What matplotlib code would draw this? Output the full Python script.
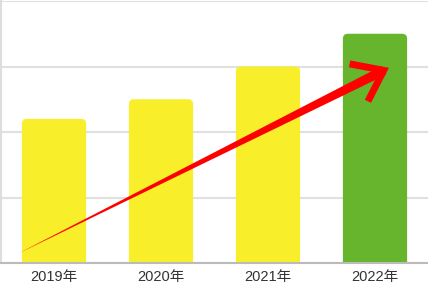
import matplotlib
matplotlib.use("Agg")
import matplotlib.pyplot as plt
from matplotlib.patches import FancyBboxPatch

plt.rcParams['font.family'] = ['Liberation Sans', 'Noto Sans CJK JP', 'DejaVu Sans']

years = ["2019年", "2020年", "2021年", "2022年"]
values = [2.2, 2.5, 3.0, 3.5]
colors = ["#F8EE2A", "#F8EE2A", "#F8EE2A", "#67B52D"]

# arrow (data coords: category index, value)
arrow_tail = (-0.34, 0.14)
arrow_tip = (3.13, 2.98)

fig = plt.figure(figsize=(4.28, 2.85), dpi=100)
ax = fig.add_axes([0.5 / 428, 22 / 285, 428 / 428, 262 / 285])

x = list(range(len(years)))
bars = ax.bar(x, values, width=0.6, color=colors, zorder=2)

ax.set_xlim(-0.5, len(years) - 0.5)
ax.set_ylim(0, 4)

# swap the plain bars for ones with rounded corners
xr = 5 / 107
yr = 5 / 65.5
for b in bars:
    bx, bw, bh = b.get_x(), b.get_width(), b.get_height()
    rp = FancyBboxPatch((bx, -0.2), bw, bh + 0.2,
                        boxstyle="round,pad=0,rounding_size=%f" % xr,
                        mutation_aspect=yr / xr,
                        facecolor=b.get_facecolor(), edgecolor="none", zorder=2)
    ax.add_patch(rp)
    b.set_visible(False)

ax.set_yticks([0, 1, 2, 3, 4])
ax.yaxis.grid(True, color="#e0e0e0", linewidth=1.5, zorder=0)
ax.set_axisbelow(True)
ax.tick_params(axis="y", length=0, labelleft=False)
ax.set_xticks(x)
ax.set_xticklabels(years, fontsize=10.5, color="#333333")
ax.tick_params(axis="x", length=0, pad=5)

for s in ["top", "right"]:
    ax.spines[s].set_visible(False)
ax.spines["left"].set_color("#dddddd")
ax.spines["left"].set_linewidth(1.5)
ax.spines["bottom"].set_color("#bbbbbb")
ax.spines["bottom"].set_linewidth(1.5)

# tapered shaft
ax.annotate("", xy=arrow_tail, xytext=arrow_tip,
            arrowprops=dict(arrowstyle="wedge,tail_width=0.7,shrink_factor=0.5",
                            color="#ff0000", lw=0, mutation_scale=10,
                            shrinkA=4, shrinkB=0), zorder=3)
# open head
ax.annotate("", xy=arrow_tip, xytext=(arrow_tip[0] - 0.3, arrow_tip[1] - 0.24),
            arrowprops=dict(arrowstyle="->,head_length=20,head_width=15",
                            color="#ff0000", lw=5, mutation_scale=1,
                            shrinkA=0, shrinkB=0, joinstyle="miter",
                            capstyle="butt"), zorder=3)

fig.savefig("out.png", dpi=100)
